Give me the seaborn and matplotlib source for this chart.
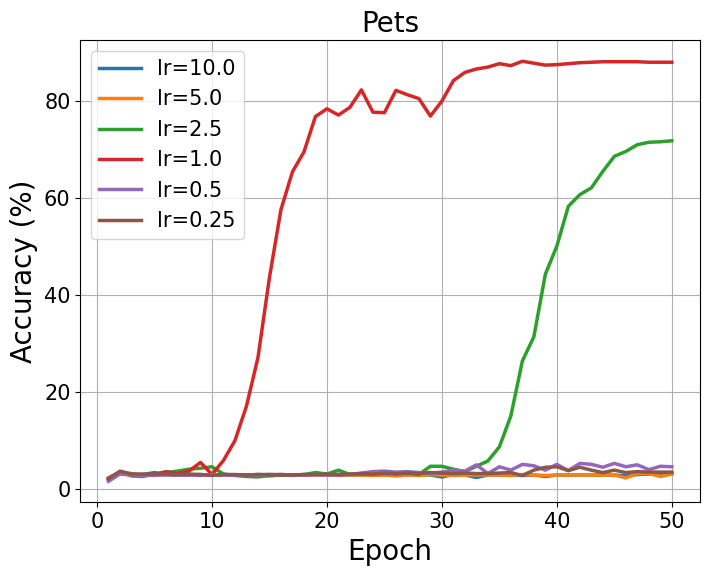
import numpy as np
import pandas as pd
import matplotlib
matplotlib.use("Agg")
import matplotlib.pyplot as plt
import seaborn as sns

epochs = list(range(1, 51))
labels = ["lr=10.0", "lr=5.0", "lr=2.5", "lr=1.0", "lr=0.5", "lr=0.25"]

acc_10 = [2.0, 3.2, 2.8, 2.9, 3.3, 2.9, 2.9, 2.8, 2.9, 2.8, 2.9, 2.8, 2.8, 2.9, 2.8, 2.9, 2.8, 2.8, 2.9, 2.8,
          2.9, 2.9, 2.8, 2.9, 2.8, 2.9, 2.8, 2.9, 2.8, 2.4, 2.9, 2.8, 2.3, 2.8, 2.8, 2.8, 2.7, 2.8, 2.5, 2.8,
          2.8, 2.8, 2.8, 2.8, 2.8, 2.6, 2.9, 3.0, 3.0, 3.1]
acc_5 = [1.9, 3.3, 3.1, 2.8, 2.7, 2.9, 2.8, 2.9, 2.8, 2.9, 2.8, 2.8, 2.7, 2.8, 2.6, 2.8, 2.7, 2.8, 2.8, 2.8,
         2.7, 2.8, 2.8, 2.7, 2.8, 2.6, 2.8, 2.7, 2.9, 2.8, 2.7, 2.8, 2.8, 2.8, 2.8, 2.7, 2.9, 2.8, 2.7, 2.8,
         2.8, 2.8, 2.8, 2.8, 2.8, 2.2, 3.1, 3.1, 2.5, 3.0]
acc_2_5 = [1.8, 3.5, 2.6, 2.5, 3.0, 3.3, 3.6, 4.0, 4.2, 4.5, 3.0, 2.7, 2.5, 2.4, 2.7, 2.8, 2.8, 2.9, 3.3, 3.0,
           3.8, 2.9, 3.0, 3.0, 3.1, 3.0, 3.2, 2.9, 4.6, 4.6, 4.0, 3.5, 4.6, 5.7, 8.6, 15.0, 26.3, 31.3, 44.2, 50.0,
           58.2, 60.6, 62.0, 65.4, 68.5, 69.5, 70.9, 71.4, 71.5, 71.7]
acc_1 = [2.2, 3.4, 2.9, 2.8, 2.9, 3.5, 3.1, 3.6, 5.4, 2.9, 5.8, 9.9, 17.0, 27.0, 43.5, 57.5, 65.3, 69.4, 76.7, 78.3,
         77.0, 78.6, 82.2, 77.6, 77.5, 82.1, 81.2, 80.4, 76.8, 79.9, 84.1, 85.8, 86.5, 86.9, 87.6, 87.2, 88.1, 87.7, 87.3, 87.4,
         87.6, 87.8, 87.9, 88.0, 88.0, 88.0, 88.0, 87.9, 87.9, 87.9]
acc_0_5 = [1.5, 3.0, 2.8, 2.7, 2.8, 2.8, 2.8, 2.8, 2.7, 2.9, 2.8, 2.8, 2.8, 2.8, 2.9, 2.9, 2.8, 2.8, 2.9, 2.8,
           2.8, 2.9, 3.2, 3.5, 3.6, 3.4, 3.5, 3.3, 3.2, 3.4, 3.8, 3.6, 4.9, 3.1, 4.5, 3.8, 5.0, 4.7, 3.8, 5.0,
           3.7, 5.2, 5.0, 4.4, 5.2, 4.5, 4.9, 3.9, 4.6, 4.5]
acc_0_25 = [2.0, 3.6, 3.0, 3.0, 3.0, 3.0, 2.9, 3.0, 2.9, 2.7, 2.9, 2.9, 2.8, 2.9, 2.9, 2.8, 2.8, 2.9, 2.9, 3.0,
            2.9, 3.0, 3.1, 3.0, 3.2, 3.1, 3.2, 3.1, 3.3, 3.2, 3.1, 3.2, 3.1, 3.1, 3.2, 3.3, 2.7, 3.8, 4.4, 4.5,
            3.7, 4.4, 3.8, 3.3, 3.8, 3.3, 3.5, 3.4, 3.4, 3.4]

series = [acc_10, acc_5, acc_2_5, acc_1, acc_0_5, acc_0_25]
df = pd.concat([pd.DataFrame({"epoch": epochs, "acc": s, "lr": lab}) for lab, s in zip(labels, series)])

fig, ax = plt.subplots(figsize=(7.09, 5.75), dpi=100)
fig.subplots_adjust(left=0.1133, right=0.9873, bottom=0.1264, top=0.930)
sns.lineplot(data=df, x="epoch", y="acc", hue="lr", hue_order=labels, palette="tab10", linewidth=2.5, ax=ax)
ax.grid(True)
ax.set_title("Pets", fontsize=20)
ax.set_xlabel("Epoch", fontsize=20)
ax.set_ylabel("Accuracy (%)", fontsize=20)
ax.tick_params(labelsize=15)
ax.legend(loc="upper left", fontsize=15)
fig.savefig("out.png", dpi=100)
